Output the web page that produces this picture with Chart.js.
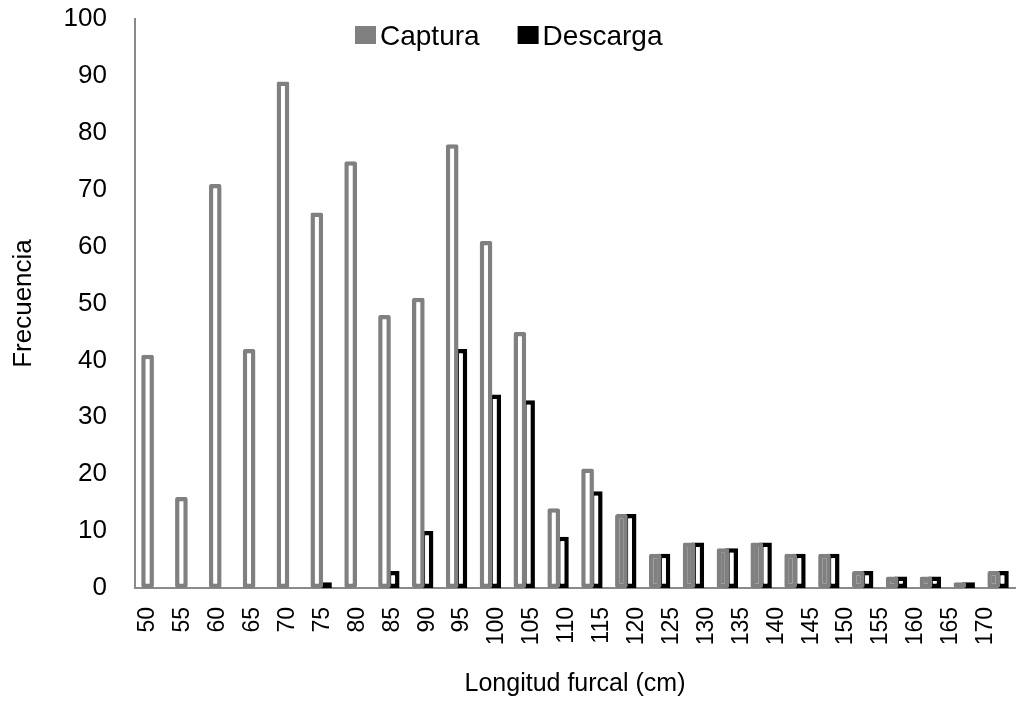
<!DOCTYPE html>
<html>
<head>
<meta charset="utf-8">
<script src="https://cdn.jsdelivr.net/npm/chart.js@4"></script>
<style>
  html, body { margin: 0; padding: 0; background: #fff; }
</style>
</head>
<body>
<canvas id="lfChart" width="1020" height="702"></canvas>
<script>
// Longitud furcal (cm), clases de 5 cm
const lengths = [50, 55, 60, 65, 70, 75, 80, 85, 90, 95, 100, 105, 110, 115, 120, 125, 130, 135, 140, 145, 150, 155, 160, 165, 170, 175];
const captura = [41, 16, 71, 42, 89, 66, 75, 48, 51, 78, 61, 45, 14, 21, 13, 6, 8, 7, 8, 6, 6, 3, 2, 2, 1, 3];
const descarga = [0, 0, 0, 0, 0, 1, 0, 3, 10, 42, 34, 33, 9, 17, 13, 6, 8, 7, 8, 6, 6, 3, 2, 2, 1, 3];
const yMax = 100;
const yStep = 10;

const FONT = '"Liberation Sans", Arial, sans-serif';
const GRAY = '#808080';
const AXIS = '#8a8a8a';

// legend drawn inside the plot, near the top
const insetLegend = {
  id: 'insetLegend',
  afterDraw(chart) {
    const ctx = chart.ctx;
    let x = 355;
    ctx.save();
    ctx.font = '28px ' + FONT;
    ctx.textBaseline = 'alphabetic';
    chart.data.datasets.forEach(ds => {
      ctx.fillStyle = ds.borderColor;
      ctx.fillRect(x, 26, 21, 18);
      x += 25;
      ctx.fillStyle = '#000';
      ctx.fillText(ds.label, x, 45);
      x += ctx.measureText(ds.label).width + 38;
    });
    ctx.restore();
  }
};

new Chart(document.getElementById('lfChart'), {
  type: 'bar',
  data: {
    labels: lengths,
    datasets: [
      {
        label: 'Captura',
        data: captura,
        borderColor: GRAY,
        // bins where the whole catch was landed come out solid
        backgroundColor: c => captura[c.dataIndex] === descarga[c.dataIndex] ? GRAY : '#fff',
        borderWidth: 4.5,
        borderRadius: 2,
        borderSkipped: false
      },
      {
        label: 'Descarga',
        data: descarga,
        borderColor: '#000',
        backgroundColor: '#fff',
        borderWidth: 4.5,
        borderSkipped: false
      }
    ]
  },
  options: {
    responsive: false,
    animation: false,
    layout: { padding: { top: 19, right: 5, left: 0, bottom: 0 } },
    categoryPercentage: 0.514,
    barPercentage: 1.46,
    plugins: {
      legend: { display: false },
      tooltip: { enabled: false }
    },
    scales: {
      // bars sit on the category axis, the length axis below carries the labels
      x: { type: 'category', display: false },
      len: {
        type: 'linear',
        position: 'bottom',
        offset: false,
        min: 48.14,
        max: 174.2,
        grid: { display: false, drawTicks: true, tickLength: 19, offset: false },
        border: { color: AXIS, width: 2 },
        afterBuildTicks: s => {
          s.ticks = lengths.filter(v => v >= s.min && v <= s.max).map(v => ({ value: v }));
        },
        afterFit: s => { s.height = 114; },
        ticks: {
          minRotation: 90,
          maxRotation: 90,
          autoSkip: false,
          padding: 0,
          color: '#000',
          font: { family: FONT, size: 23 }
        },
        title: {
          display: true,
          text: 'Longitud furcal (cm)',
          color: '#000',
          font: { family: FONT, size: 25 },
          padding: { top: 0, bottom: 3 }
        }
      },
      y: {
        min: 0,
        max: yMax,
        grid: { display: false, drawTicks: true, tickLength: 28 },
        border: { color: AXIS, width: 2 },
        afterFit: s => { s.width = 135; },
        ticks: {
          stepSize: yStep,
          padding: 0,
          color: '#000',
          font: { family: FONT, size: 26 }
        },
        title: {
          display: true,
          text: 'Frecuencia',
          color: '#000',
          font: { family: FONT, size: 26 },
          padding: { top: 8, bottom: 0 }
        }
      }
    }
  },
  plugins: [insetLegend]
});
</script>
</body>
</html>
